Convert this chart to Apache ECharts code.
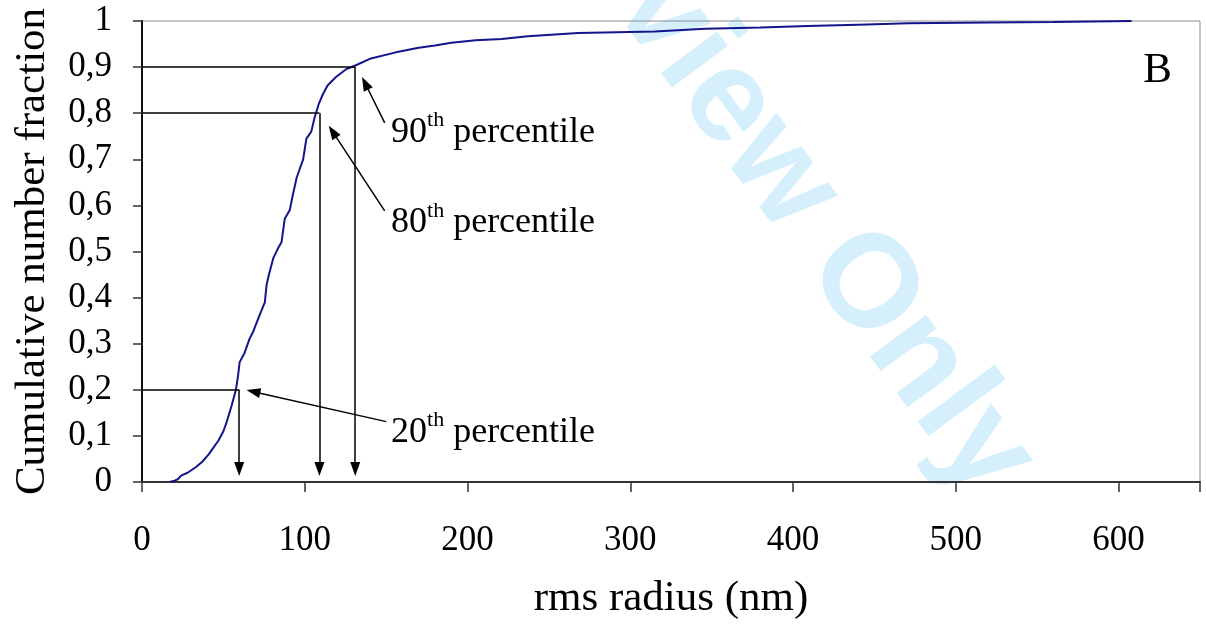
<!DOCTYPE html>
<html>
<head>
<meta charset="utf-8">
<script src="https://cdn.jsdelivr.net/npm/echarts@6/dist/echarts.min.js"></script>
<style>
  html, body { margin: 0; padding: 0; background: #fff; }
  #chart { width: 1206px; height: 625px; }
</style>
</head>
<body>
<div id="chart"></div>
<script>
// cumulative curve
const radius = [17, 20, 22, 24, 28, 33, 37, 41, 44, 47, 50, 52, 55, 57.7, 59, 60, 63, 66, 68.3, 72, 75.5, 76.5, 78, 80.6, 84, 85.7, 87.7, 90.8, 92.2, 95, 97, 99, 101, 104, 106, 108.6, 111, 114, 119, 125.6, 130.7, 140, 156, 170, 180, 190, 205, 221, 237, 268, 315, 346, 380, 409, 440, 471, 520, 560, 608];
const fraction = [0, 0.003, 0.006, 0.014, 0.02, 0.032, 0.044, 0.06, 0.075, 0.09, 0.11, 0.13, 0.165, 0.2, 0.23, 0.26, 0.28, 0.31, 0.326, 0.36, 0.39, 0.427, 0.45, 0.485, 0.51, 0.52, 0.571, 0.59, 0.615, 0.66, 0.68, 0.7, 0.745, 0.76, 0.79, 0.82, 0.84, 0.86, 0.878, 0.896, 0.903, 0.918, 0.932, 0.942, 0.947, 0.953, 0.958, 0.961, 0.967, 0.974, 0.977, 0.983, 0.986, 0.989, 0.992, 0.995, 0.997, 0.998, 1.0];

// percentile marks
const pctNames = ['20', '80', '90'];
const pctRadius = [59.7, 109, 131];
const pctLevel = [0.2, 0.8, 0.9];
const arrowFloor = 0.028;
// label anchor and pointer arrow (start -> head) in data units
const labelPos = [[153, 0.108], [153, 0.562], [153, 0.759]];
const pointerFrom = [[150.1, 0.131], [149.1, 0.588], [149.1, 0.779]];
const pointerTo = [[68.4, 0.196], [117.1, 0.760], [137.1, 0.865]];

const font = 'Liberation Serif';

const chart = echarts.init(document.getElementById('chart'));

const plainLines = [];
const arrowLines = [];
pctNames.forEach((n, i) => {
  plainLines.push([{ coord: [0, pctLevel[i]] }, { coord: [pctRadius[i], pctLevel[i]] }]);
  arrowLines.push([{ coord: [pctRadius[i], pctLevel[i]] }, { coord: [pctRadius[i], arrowFloor] }]);
  arrowLines.push([{ coord: pointerFrom[i] }, { coord: pointerTo[i] }]);
});

const labelPoints = pctNames.map((n, i) => ({
  coord: labelPos[i],
  label: { formatter: '{n|' + n + '}{s|th}{n| percentile}' }
}));

chart.setOption({
  animation: false,
  backgroundColor: '#fff',
  grid: {
    left: 142, right: 6, top: 21, bottom: 141,
    show: true, borderColor: '#8c8c8c', borderWidth: 1
  },
  xAxis: {
    type: 'value',
    min: 0, max: 650, interval: 100,
    name: 'rms radius (nm)',
    nameLocation: 'middle',
    nameGap: 95,
    nameTextStyle: { fontFamily: font, fontSize: 43, color: '#000' },
    axisLine: { lineStyle: { color: '#333', width: 2 } },
    axisTick: { length: 10, lineStyle: { color: '#333', width: 1.5 } },
    axisLabel: {
      margin: 41, fontFamily: font, fontSize: 35, color: '#000',
      formatter: v => (v % 100 === 0 ? String(v) : '')
    },
    splitLine: { show: false }
  },
  yAxis: {
    type: 'value',
    min: 0, max: 1, interval: 0.1,
    name: 'Cumulative number fraction',
    nameLocation: 'middle',
    nameGap: 88,
    nameTextStyle: { fontFamily: font, fontSize: 43, color: '#000' },
    axisLine: { show: true, lineStyle: { color: '#111', width: 2 } },
    axisTick: { show: true, length: 9, lineStyle: { color: '#333', width: 1.5 } },
    axisLabel: {
      margin: 30, fontFamily: font, fontSize: 35, color: '#000',
      formatter: v => String(+v.toFixed(1)).replace('.', ',')
    },
    splitLine: { show: false }
  },
  graphic: [
    {
      type: 'text', x: 774, y: 165, rotation: -53.6 * Math.PI / 180, z: -10,
      style: {
        text: 'Review Only', align: 'center', verticalAlign: 'middle',
        font: 'bold 132px "Liberation Sans"', fill: '#d5effc'
      }
    },
    {
      type: 'text', right: 34, top: 49,
      style: { text: 'B', font: '43px "Liberation Serif"', fill: '#000' }
    }
  ],
  series: [
    {
      type: 'line',
      data: radius.map((r, i) => [r, fraction[i]]),
      showSymbol: false,
      lineStyle: { color: '#14148c', width: 2 },
      z: 3
    },
    {
      type: 'line',
      data: [],
      markLine: {
        silent: true, symbol: 'none', animation: false,
        label: { show: false },
        lineStyle: { color: '#000', width: 1.5, type: 'solid' },
        data: plainLines
      }
    },
    {
      type: 'line',
      data: [],
      markLine: {
        silent: true, symbol: ['none', 'triangle'], symbolSize: [10, 14], animation: false,
        label: { show: false },
        lineStyle: { color: '#000', width: 1.5, type: 'solid' },
        itemStyle: { color: '#000' },
        data: arrowLines
      },
      markPoint: {
        silent: true, symbolSize: 0, animation: false,
        label: {
          show: true, position: 'right', distance: 0,
          rich: {
            n: { fontFamily: font, fontSize: 36, lineHeight: 46, color: '#000' },
            s: { fontFamily: font, fontSize: 22, lineHeight: 22, verticalAlign: 'top', color: '#000' }
          }
        },
        data: labelPoints
      }
    }
  ]
});
</script>
</body>
</html>
